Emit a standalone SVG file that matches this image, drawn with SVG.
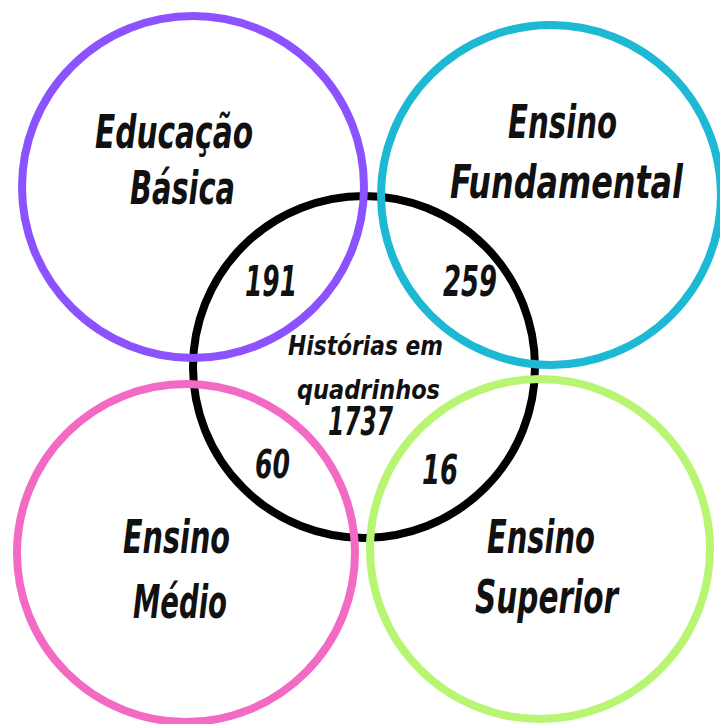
<svg xmlns="http://www.w3.org/2000/svg" width="720" height="724" viewBox="0 0 720 724">
  <style>
    .ring { fill: none; stroke-width: 8; }
    .lbl { font-family: "DejaVu Sans", "Liberation Sans", sans-serif; font-stretch: condensed; font-weight: bold; font-style: italic; fill: #111; }
    .big { font-size: 47px; }
    .num { font-size: 43px; }
    .mid { font-size: 27px; }
  </style>
  <rect width="720" height="724" fill="#ffffff"/>
  <g id="hq">
    <circle class="ring" cx="364" cy="367" r="171" stroke="#000000"/>
    <text class="lbl mid" x="288" y="355" textLength="155" lengthAdjust="spacingAndGlyphs">Histórias em</text>
    <text class="lbl mid" x="297" y="399" textLength="143" lengthAdjust="spacingAndGlyphs">quadrinhos</text>
    <text class="lbl" style="font-size:39px" x="328" y="435" textLength="65" lengthAdjust="spacingAndGlyphs">1737</text>
  </g>
  <g id="educacao-basica">
    <circle class="ring" cx="193" cy="187" r="171" stroke="#8c52ff"/>
    <text class="lbl big" x="95" y="148" textLength="158" lengthAdjust="spacingAndGlyphs">Educação</text>
    <text class="lbl big" x="130" y="204" textLength="105" lengthAdjust="spacingAndGlyphs">Básica</text>
    <text class="lbl num" x="245" y="296" textLength="52" lengthAdjust="spacingAndGlyphs">191</text>
  </g>
  <g id="ensino-fundamental">
    <circle class="ring" cx="551" cy="195" r="170" stroke="#1cb8d4"/>
    <text class="lbl big" x="508" y="138" textLength="109" lengthAdjust="spacingAndGlyphs">Ensino</text>
    <text class="lbl big" x="450" y="198" textLength="233" lengthAdjust="spacingAndGlyphs">Fundamental</text>
    <text class="lbl num" x="443" y="296" textLength="54" lengthAdjust="spacingAndGlyphs">259</text>
  </g>
  <g id="ensino-medio">
    <circle class="ring" cx="186" cy="553" r="169" stroke="#f26ac4"/>
    <text class="lbl big" x="123" y="553" textLength="107" lengthAdjust="spacingAndGlyphs">Ensino</text>
    <text class="lbl big" x="133" y="618" textLength="94" lengthAdjust="spacingAndGlyphs">Médio</text>
    <text class="lbl" style="font-size:39px" x="255" y="478" textLength="35" lengthAdjust="spacingAndGlyphs">60</text>
  </g>
  <g id="ensino-superior">
    <circle class="ring" cx="540" cy="549" r="170" stroke="#b8f572"/>
    <text class="lbl big" x="487" y="553" textLength="108" lengthAdjust="spacingAndGlyphs">Ensino</text>
    <text class="lbl big" x="475" y="613" textLength="143" lengthAdjust="spacingAndGlyphs">Superior</text>
    <text class="lbl" style="font-size:40px" x="422" y="484" textLength="36" lengthAdjust="spacingAndGlyphs">16</text>
  </g>
  <g id="connectors"/>
</svg>
